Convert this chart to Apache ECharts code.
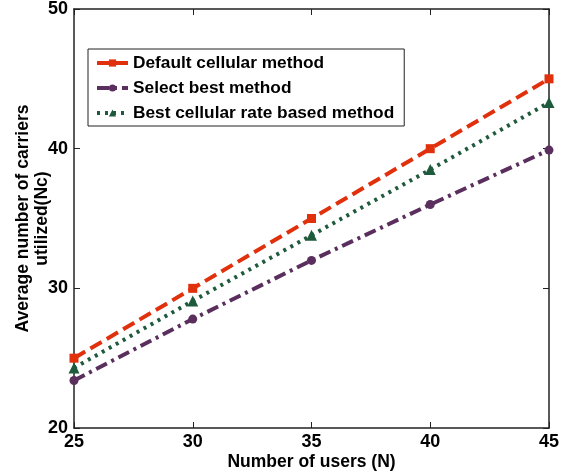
<!DOCTYPE html>
<html>
<head>
<meta charset="utf-8">
<script src="https://cdn.jsdelivr.net/npm/echarts@6/dist/echarts.min.js"></script>
<style>
  html, body { margin: 0; padding: 0; background: #fff; }
  #chart { width: 562px; height: 476px; }
</style>
</head>
<body>
<div id="chart"></div>
<script>
// data
const users = [25, 30, 35, 40, 45]
const defaultCellular = [25, 30, 35, 40, 45]
const selectBest = [23.4, 27.8, 32, 36, 39.9]
const bestCellularRate = [24.3, 29.1, 33.8, 38.5, 43.3]
const seriesNames = ['Default cellular method', 'Select best method', 'Best cellular rate based method']

const font = 'Liberation Sans, Arial, Helvetica, sans-serif'
const ink = '#222'

const toPairs = (ys) => users.map((x, i) => [x, ys[i]])

const myChart = echarts.init(document.getElementById('chart'))
myChart.setOption({
  animation: false,
  backgroundColor: '#fff',
  textStyle: { fontFamily: font },
  grid: { left: 74, right: 13, top: 9, bottom: 48, containLabel: false, outerBoundsMode: 'none' },
  legend: {
    data: seriesNames,
    orient: 'vertical',
    left: 88,
    top: 49,
    padding: [5, 10, 4, 7],
    itemGap: 7,
    itemWidth: 31,
    itemHeight: 9,
    borderColor: ink,
    borderWidth: 1,
    backgroundColor: '#fff',
    lineStyle: { width: 4 },
    textStyle: { fontFamily: font, fontWeight: 'bold', fontSize: 17.3, color: '#000', lineHeight: 18 }
  },
  xAxis: [
    {
      type: 'value',
      min: 25, max: 45, interval: 5,
      name: 'Number of users (N)',
      nameLocation: 'middle',
      nameGap: 25,
      nameMoveOverlap: false,
      nameTextStyle: { fontFamily: font, fontWeight: 'bold', fontSize: 17.5, color: '#000' },
      axisLine: { show: true, onZero: false, lineStyle: { color: ink, width: 1.5 } },
      axisTick: { show: true, inside: true, length: 6, lineStyle: { color: ink } },
      axisLabel: { margin: 5, fontFamily: font, fontWeight: 'bold', fontSize: 18, color: '#000' },
      splitLine: { show: false }
    },
    {
      type: 'value',
      position: 'top',
      min: 25, max: 45, interval: 5,
      axisLine: { show: true, onZero: false, lineStyle: { color: ink, width: 1.5 } },
      axisTick: { show: true, inside: true, length: 6, lineStyle: { color: ink } },
      axisLabel: { show: false },
      splitLine: { show: false }
    }
  ],
  yAxis: [
    {
      type: 'value',
      min: 20, max: 50, interval: 10,
      name: 'Average number of carriers\nutilized(Nc)',
      nameLocation: 'middle',
      nameGap: 22,
      nameMoveOverlap: false,
      nameTextStyle: { fontFamily: font, fontWeight: 'bold', fontSize: 17.5, color: '#000', lineHeight: 19 },
      axisLine: { show: true, onZero: false, lineStyle: { color: ink, width: 1.5 } },
      axisTick: { show: true, inside: true, length: 6, lineStyle: { color: ink } },
      axisLabel: { margin: 6, fontFamily: font, fontWeight: 'bold', fontSize: 18, color: '#000' },
      splitLine: { show: false }
    },
    {
      type: 'value',
      position: 'right',
      min: 20, max: 50, interval: 10,
      axisLine: { show: true, onZero: false, lineStyle: { color: ink, width: 1.5 } },
      axisTick: { show: true, inside: true, length: 6, lineStyle: { color: ink } },
      axisLabel: { show: false },
      splitLine: { show: false }
    }
  ],
  series: [
    {
      name: seriesNames[0],
      type: 'line',
      data: toPairs(defaultCellular),
      symbol: 'rect',
      symbolSize: 9,
      color: '#e0300c',
      lineStyle: { width: 4, type: [13, 6] },
      z: 3
    },
    {
      name: seriesNames[1],
      type: 'line',
      data: toPairs(selectBest),
      symbol: 'circle',
      symbolSize: 9,
      color: '#5a2f5e',
      lineStyle: { width: 4, type: [12, 5, 3, 5] },
      z: 2
    },
    {
      name: seriesNames[2],
      type: 'line',
      data: toPairs(bestCellularRate),
      symbol: 'triangle',
      symbolSize: 11,
      color: '#1e5a3c',
      lineStyle: { width: 4, type: [3, 5] },
      z: 2
    }
  ]
})
</script>
</body>
</html>
